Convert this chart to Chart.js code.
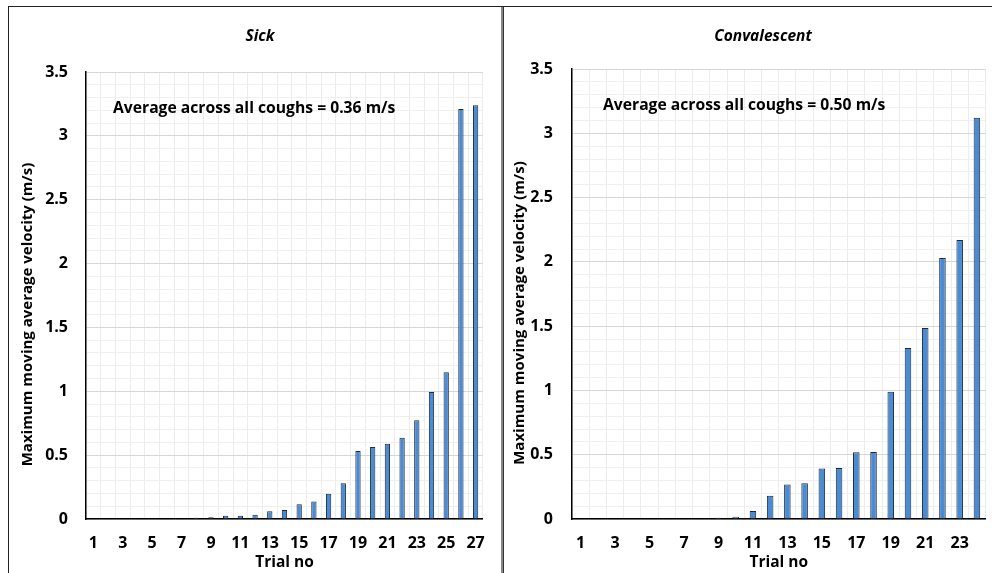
<!DOCTYPE html>
<html>
<head>
<meta charset="utf-8">
<script src="https://cdn.jsdelivr.net/npm/chart.js@4.4.0/dist/chart.umd.min.js"></script>
<style>
  body { margin: 0; background: #fff; width: 992px; height: 573px; overflow: hidden; position: relative; }
  .line { position: absolute; }
  .panel { position: absolute; top: 7px; height: 566px; }
</style>
</head>
<body>
<div class="line" style="left:8px;top:6px;width:984px;height:1px;background:#222"></div>
<div class="line" style="left:8px;top:6px;width:1px;height:567px;background:#222"></div>
<div class="line" style="left:501px;top:7px;width:2px;height:566px;background:#888"></div>
<div class="line" style="left:503px;top:7px;width:1px;height:566px;background:#333"></div>
<div class="panel" style="left:9px;width:491px"><canvas id="sick-chart" width="491" height="566"></canvas></div>
<div class="panel" style="left:505px;width:487px"><canvas id="conv-chart" width="487" height="566"></canvas></div>
<script>
const sickTrials = [1, 2, 3, 4, 5, 6, 7, 8, 9, 10, 11, 12, 13, 14, 15, 16, 17, 18, 19, 20, 21, 22, 23, 24, 25, 26, 27];
const sickValues = [0.003, 0.002, 0.002, 0.002, 0.002, 0.002, 0.003, 0.01, 0.013, 0.026, 0.026, 0.034,
  0.06, 0.07, 0.115, 0.138, 0.198, 0.279, 0.533, 0.564, 0.59, 0.637, 0.773, 0.995, 1.15, 3.21, 3.24];

const convTrials = [1, 2, 3, 4, 5, 6, 7, 8, 9, 10, 11, 12, 13, 14, 15, 16, 17, 18, 19, 20, 21, 22, 23, 24];
const convValues = [0.003, 0.003, 0.003, 0.004, 0.004, 0.004, 0.004, 0.005, 0.01, 0.018, 0.062, 0.18,
  0.268, 0.278, 0.392, 0.397, 0.52, 0.522, 0.99, 1.33, 1.485, 2.03, 2.17, 3.12];

const yMax = 3.5;
const majorTicks = [0, 0.5, 1, 1.5, 2, 2.5, 3, 3.5];

const sickNote = "Average across all coughs = 0.36 m/s";
const convNote = "Average across all coughs = 0.50 m/s";
const yTitle = "Maximum moving average velocity (m/s)";

const FONT = "'Open Sans', sans-serif";

function isMajor(v) {
  return majorTicks.some((m) => Math.abs(m - v) < 1e-6);
}

// panel title, y axis title and the average note (Excel puts them off-centre)
const textPlugin = {
  id: "texts",
  afterDraw(chart, args, opts) {
    const ctx = chart.ctx;
    const area = chart.chartArea;
    ctx.save();
    ctx.fillStyle = "#000";
    ctx.textBaseline = "middle";

    ctx.font = "italic bold 15.5px " + FONT;
    ctx.textAlign = "center";
    ctx.fillText(opts.title, opts.titleX, 30);

    ctx.font = "bold 15.7px " + FONT;
    ctx.textAlign = "left";
    ctx.fillText(opts.note, area.left + opts.noteDx, area.top + 37);

    ctx.font = "bold 15px " + FONT;
    ctx.textAlign = "center";
    ctx.translate(opts.yTitleX, (area.top + area.bottom) / 2 + 19);
    ctx.rotate(-Math.PI / 2);
    ctx.fillText(yTitle, 0, 0);
    ctx.restore();
  },
};

function makeChart(id, title, labels, values, o) {
  const ctx = document.getElementById(id).getContext("2d");
  return new Chart(ctx, {
    type: "bar",
    data: {
      labels: labels,
      datasets: [
        {
          data: values,
          backgroundColor: "#4a8bd4",
          borderColor: "#1c2b3c",
          borderWidth: 1,
          barPercentage: o.barPct,
          categoryPercentage: 1,
        },
      ],
    },
    plugins: [textPlugin],
    options: {
      responsive: false,
      animation: false,
      layout: { padding: { left: 0, right: o.padRight, top: o.padTop, bottom: 0 } },
      plugins: {
        legend: { display: false },
        tooltip: { enabled: false },
        title: { display: false },
        texts: { title: title, titleX: o.titleX, note: o.note, noteDx: o.noteDx, yTitleX: o.yTitleX },
      },
      scales: {
        x: {
          offset: true,
          grid: { offset: true, color: "#ececec", drawTicks: false },
          border: { color: "#000", width: 1.5 },
          ticks: {
            autoSkip: false,
            maxRotation: 0,
            padding: 15,
            color: "#000",
            font: { family: FONT, size: 16, weight: "bold" },
            callback: function (val, i) {
              return i % 2 === 0 ? this.getLabelForValue(val) : "";
            },
          },
          title: {
            display: true,
            text: "Trial no",
            color: "#000",
            font: { family: FONT, size: 15.5, weight: "bold" },
            padding: { top: 0, bottom: 1 },
          },
          afterFit: (scale) => { scale.height = 54; },
        },
        y: {
          min: 0,
          max: yMax,
          grid: {
            drawTicks: false,
            color: (c) => (isMajor(c.tick.value) ? "#d6d6d6" : "#efefef"),
          },
          border: { color: "#000", width: 1.5 },
          ticks: {
            stepSize: 0.1,
            autoSkip: false,
            padding: o.tickPad,
            color: "#000",
            font: { family: FONT, size: 16, weight: "bold" },
            callback: (v) => (isMajor(v) ? String(Math.round(v * 10) / 10) : ""),
          },
          afterFit: (scale) => { scale.width = o.yWidth; },
        },
      },
    },
  });
}

const sickChart = makeChart("sick-chart", "Sick", sickTrials, sickValues, {
  barPct: 0.36, padRight: 13, padTop: 65, tickPad: 18, yWidth: 77,
  titleX: 251, note: sickNote, noteDx: 27, yTitleX: 19,
});
const convChart = makeChart("conv-chart", "Convalescent", convTrials, convValues, {
  barPct: 0.38, padRight: 4, padTop: 62, tickPad: 19, yWidth: 67,
  titleX: 258, note: convNote, noteDx: 31, yTitleX: 15,
});
</script>
</body>
</html>
